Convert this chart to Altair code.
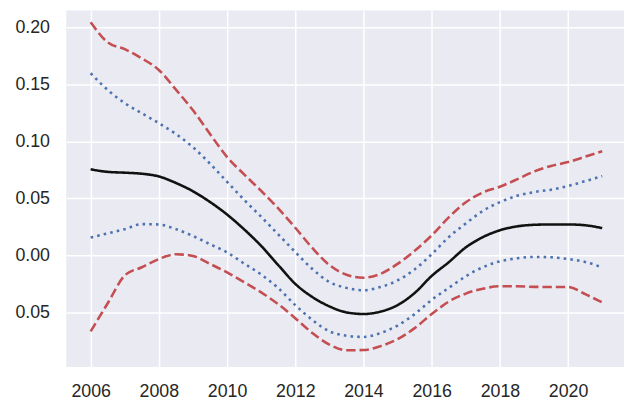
import altair as alt
import pandas as pd

# half-yearly samples
years = [2006, 2006.5, 2007, 2007.5, 2008, 2008.5, 2009, 2009.5, 2010, 2010.5,
         2011, 2011.5, 2012, 2012.5, 2013, 2013.5, 2014, 2014.5, 2015, 2015.5,
         2016, 2016.5, 2017, 2017.5, 2018, 2018.5, 2019, 2019.5, 2020, 2020.5, 2021]

estimate = [0.0755, 0.0732, 0.0725, 0.0716, 0.0692, 0.0635, 0.0562, 0.0468, 0.0358, 0.0228,
            0.0083, -0.0085, -0.025, -0.0365, -0.0447, -0.050, -0.0514, -0.0493, -0.0436, -0.033,
            -0.018, -0.006, 0.007, 0.016, 0.022, 0.0254, 0.0268, 0.0271, 0.0271, 0.0264, 0.0239]

band_hi = [0.1597, 0.145, 0.1335, 0.1246, 0.1159, 0.1064, 0.0948, 0.0804, 0.0645, 0.0487,
           0.0338, 0.0184, 0.0029, -0.0119, -0.0234, -0.0285, -0.0306, -0.0277, -0.022, -0.0123,
           0.001, 0.016, 0.028, 0.039, 0.0467, 0.0522, 0.0555, 0.0576, 0.0608, 0.0651, 0.0695]

band_lo = [0.0156, 0.0193, 0.023, 0.0274, 0.0271, 0.023, 0.017, 0.0098, 0.0026, -0.0072,
           -0.0168, -0.0287, -0.0436, -0.0566, -0.0666, -0.0704, -0.0715, -0.0681, -0.0615, -0.0515,
           -0.039, -0.0285, -0.0183, -0.0104, -0.0052, -0.0026, -0.0014, -0.0017, -0.0032, -0.0058, -0.0105]

outer_hi = [0.2044, 0.1868, 0.1808, 0.1727, 0.1626, 0.1453, 0.1272, 0.1064, 0.0862, 0.071,
            0.0565, 0.0412, 0.0242, 0.0065, -0.0085, -0.017, -0.0196, -0.0162, -0.0075, 0.004,
            0.0175, 0.0333, 0.0465, 0.0552, 0.0602, 0.0666, 0.0735, 0.0784, 0.0818, 0.0865, 0.0913]

outer_lo = [-0.0666, -0.042, -0.0176, -0.0104, -0.0032, 0.001, -0.0005, -0.0075, -0.015, -0.0235,
            -0.0325, -0.0428, -0.0551, -0.0681, -0.0782, -0.0832, -0.083, -0.0796, -0.0735, -0.0638,
            -0.0515, -0.0405, -0.0335, -0.0292, -0.0271, -0.0271, -0.0276, -0.0277, -0.0277, -0.034, -0.0413]

series = {
    "outer_hi": outer_hi,
    "outer_lo": outer_lo,
    "band_hi": band_hi,
    "band_lo": band_lo,
    "estimate": estimate,
}

frame = pd.concat(
    [pd.DataFrame({"year": years, "value": vals, "series": name}) for name, vals in series.items()],
    ignore_index=True,
)

names = list(series.keys())
colors = ["#C44E52", "#C44E52", "#4C72B0", "#4C72B0", "#111111"]
dashes = [[9.5, 4], [9.5, 4], [2.6, 4.2], [2.6, 4.2], [1, 0]]

font = "Liberation Sans"

chart = (
    alt.Chart(frame)
    .mark_line(strokeWidth=2.6, strokeCap="butt", interpolate="monotone")
    .encode(
        x=alt.X(
            "year:Q",
            scale=alt.Scale(domain=[2005.284, 2021.64], nice=False, zero=False),
            axis=alt.Axis(
                values=[2006, 2008, 2010, 2012, 2014, 2016, 2018, 2020],
                format="d",
                labelPadding=16,
            ),
            title=None,
        ),
        y=alt.Y(
            "value:Q",
            scale=alt.Scale(domain=[-0.0978, 0.2147], nice=False, zero=False),
            axis=alt.Axis(
                values=[-0.05, 0.0, 0.05, 0.10, 0.15, 0.20],
                labelExpr="format(abs(datum.value), '.2f')",
                labelPadding=17,
            ),
            title=None,
        ),
        color=alt.Color("series:N", scale=alt.Scale(domain=names, range=colors), legend=None),
        strokeDash=alt.StrokeDash(
            "series:N", scale=alt.Scale(domain=names, range=dashes), legend=None
        ),
        detail="series:N",
    )
    .properties(
        width=565,
        height=361,
        autosize=alt.AutoSizeParams(type="none"),
        padding={"left": 59, "top": 0, "right": 3, "bottom": 33},
    )
    .configure_view(fill="#EAEAF2", stroke=None)
    .configure_axis(
        grid=True,
        gridColor="#FFFFFF",
        gridWidth=1.5,
        domain=False,
        ticks=False,
        labelFont=font,
        labelFontSize=18,
        labelColor="#262626",
    )
)

chart.save("out.html", embed_options={"renderer": "svg", "actions": False})
